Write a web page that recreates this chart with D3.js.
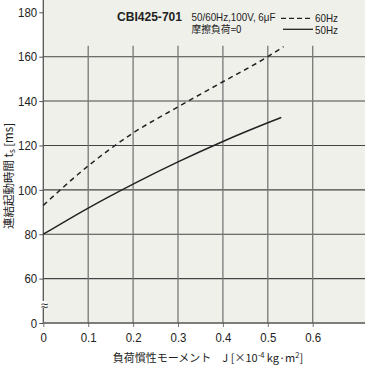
<!DOCTYPE html>
<html>
<head>
<meta charset="utf-8">
<script src="https://cdn.jsdelivr.net/npm/d3@7"></script>
<style>
  body { margin: 0; background: #fff; }
  text { font-family: "Liberation Sans", Arial, sans-serif; fill: #222; }
  .jp { font-family: "Noto Sans CJK JP", sans-serif; }
</style>
</head>
<body>
<div id="chart"></div>
<script>
// data
var inertia60 = [0, 0.1, 0.2, 0.3, 0.4, 0.5, 0.535];
var time60 = [93, 110.8, 125.6, 137.4, 148.7, 160, 164.5];
var inertia50 = [0, 0.1, 0.2, 0.3, 0.4, 0.5, 0.53];
var time50 = [80, 91.8, 102.6, 112.6, 121.8, 130.2, 132.6];
var xTicks = [0, 0.1, 0.2, 0.3, 0.4, 0.5, 0.6];
var yTicks = [40, 60, 80, 100, 120, 140, 160, 180]; // 40 slot is drawn as "0" (axis break)
var yGrid = [60, 80, 100, 120, 140, 160];

var svgWidth = 365, svgHeight = 366;
var plotLeft = 43.3, plotRight = 365, plotBottom = 323, plotTop = 12.3;

var svg = d3.select("#chart").append("svg")
    .attr("width", svgWidth)
    .attr("height", svgHeight);

var x = d3.scaleLinear().domain([0, 0.6]).range([plotLeft, 312.7]);
var y = d3.scaleLinear().domain([40, 180]).range([plotBottom, plotTop]);

// plot background
svg.append("rect")
    .attr("x", plotLeft).attr("y", 0)
    .attr("width", plotRight - plotLeft).attr("height", plotBottom)
    .attr("fill", "#f0f0eb");

// grid lines
svg.append("g").selectAll("line")
    .data(yGrid).enter().append("line")
    .attr("x1", plotLeft).attr("x2", plotRight)
    .attr("y1", d => y(d)).attr("y2", d => y(d))
    .attr("stroke", "#444").attr("stroke-width", 1.1);

svg.append("g").selectAll("line")
    .data(xTicks.slice(1)).enter().append("line")
    .attr("x1", d => x(d)).attr("x2", d => x(d))
    .attr("y1", plotBottom).attr("y2", 45.7)
    .attr("stroke", "#777").attr("stroke-width", 1.3);

// axes
var yAxis = d3.axisLeft(y).tickValues(yTicks).tickSize(4).tickPadding(3)
    .tickFormat(d => d === 40 ? "0" : d);
var gy = svg.append("g").attr("transform", `translate(${plotLeft},0)`).call(yAxis);
gy.select(".domain").remove();
gy.selectAll(".tick line").attr("stroke", "#555");
gy.selectAll(".tick text").attr("font-size", 13).attr("fill", "#222")
    .attr("font-family", "'Liberation Sans', Arial, sans-serif")
    .attr("transform", "scale(0.88,1)");

var xAxis = d3.axisBottom(x).tickValues(xTicks).tickSize(4).tickPadding(6)
    .tickFormat(d => d === 0 ? "0" : d3.format(".1f")(d));
var gx = svg.append("g").attr("transform", `translate(0,${plotBottom})`).call(xAxis);
gx.select(".domain").remove();
gx.selectAll(".tick line").attr("stroke", "#777");
gx.selectAll(".tick text").attr("font-size", 13).attr("fill", "#222")
    .attr("font-family", "'Liberation Sans', Arial, sans-serif")
    .attr("transform", "scale(0.88,1)");

svg.append("line")
    .attr("x1", plotLeft).attr("x2", plotLeft).attr("y1", 0).attr("y2", plotBottom)
    .attr("stroke", "#555").attr("stroke-width", 1.3);
svg.append("line")
    .attr("x1", plotLeft).attr("x2", plotRight).attr("y1", plotBottom).attr("y2", plotBottom)
    .attr("stroke", "#555").attr("stroke-width", 1.3);

// axis break mark
svg.append("rect").attr("x", plotLeft - 3).attr("y", 301).attr("width", 6).attr("height", 7).attr("fill", "#fff");
svg.append("text").attr("x", plotLeft + 1).attr("y", 309.5)
    .attr("text-anchor", "middle").attr("font-size", 13).text("≈");

// curves
var line = d3.line().curve(d3.curveMonotoneX);
svg.append("path")
    .attr("d", line(inertia60.map((v, i) => [x(v), y(time60[i])])))
    .attr("fill", "none").attr("stroke", "#222").attr("stroke-width", 1.5)
    .attr("stroke-dasharray", "5,4");
svg.append("path")
    .attr("d", line(inertia50.map((v, i) => [x(v), y(time50[i])])))
    .attr("fill", "none").attr("stroke", "#222").attr("stroke-width", 1.5);

// title and legend
svg.append("text").attr("x", 117).attr("y", 21)
    .attr("font-size", 13).attr("font-weight", "bold")
    .attr("textLength", 65).attr("lengthAdjust", "spacingAndGlyphs")
    .text("CBI425-701");
svg.append("text").attr("x", 191.5).attr("y", 20.5).attr("font-size", 11)
    .attr("textLength", 84).attr("lengthAdjust", "spacingAndGlyphs")
    .text("50/60Hz,100V, 6μF");
svg.append("text").attr("class", "jp").attr("x", 191.5).attr("y", 32.5).attr("font-size", 10)
    .attr("textLength", 50).attr("lengthAdjust", "spacingAndGlyphs")
    .text("摩擦負荷=0");

svg.append("line").attr("x1", 281).attr("x2", 313).attr("y1", 18.3).attr("y2", 18.3)
    .attr("stroke", "#222").attr("stroke-width", 1.3).attr("stroke-dasharray", "5,3");
svg.append("text").attr("x", 315).attr("y", 22).attr("font-size", 10.5)
    .attr("textLength", 23).attr("lengthAdjust", "spacingAndGlyphs").text("60Hz");
svg.append("line").attr("x1", 283).attr("x2", 313).attr("y1", 29.3).attr("y2", 29.3)
    .attr("stroke", "#222").attr("stroke-width", 1.3);
svg.append("text").attr("x", 315).attr("y", 34.3).attr("font-size", 10.5)
    .attr("textLength", 23).attr("lengthAdjust", "spacingAndGlyphs").text("50Hz");

// axis titles
var yt = svg.append("text").attr("class", "jp")
    .attr("transform", "translate(12.5,176) rotate(-90)")
    .attr("text-anchor", "middle").attr("font-size", 11.5);
yt.append("tspan").text("連結起動時間 t");
yt.append("tspan").attr("font-size", 8).attr("dy", 2).text("s");
yt.append("tspan").attr("dy", -2).text(" [ms]");

var xt = svg.append("text").attr("class", "jp")
    .attr("x", 208).attr("y", 362)
    .attr("text-anchor", "middle").attr("font-size", 11);
xt.append("tspan").text("負荷慣性モーメント　J [×10");
xt.append("tspan").attr("font-size", 7.5).attr("dy", -4).text("-4");
xt.append("tspan").attr("dy", 4).text(" kg·m");
xt.append("tspan").attr("font-size", 7.5).attr("dy", -4).text("2");
xt.append("tspan").attr("dy", 4).text("]");
</script>
</body>
</html>
